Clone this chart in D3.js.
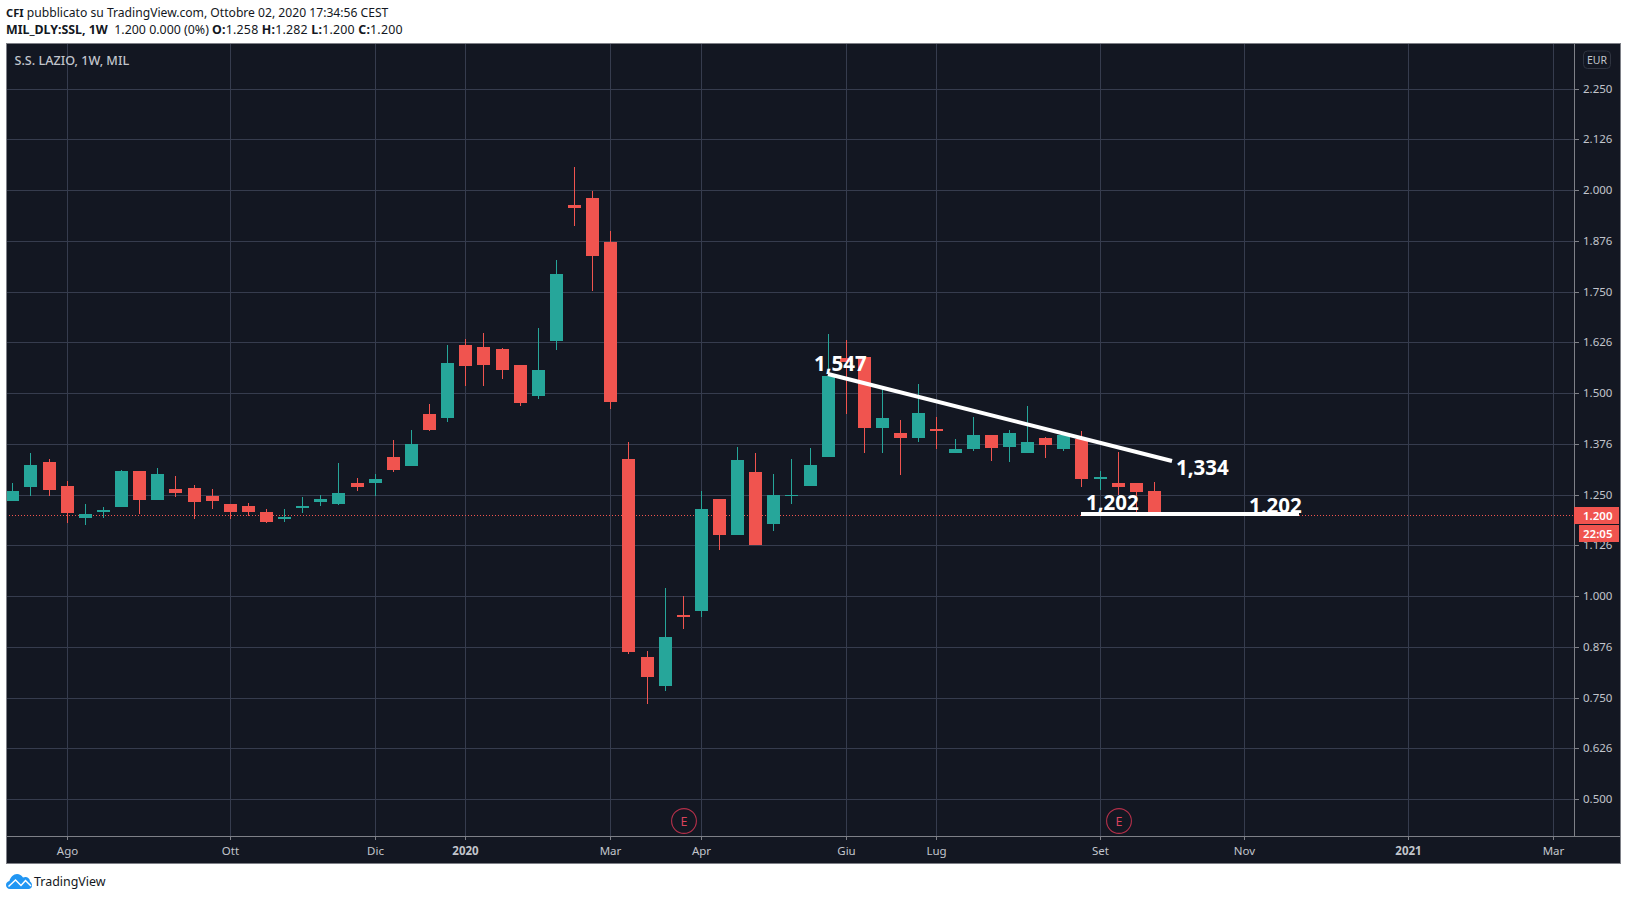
<!DOCTYPE html>
<html>
<head>
<meta charset="utf-8">
<title>S.S. LAZIO, 1W, MIL</title>
<script src="https://cdn.jsdelivr.net/npm/d3@7/dist/d3.min.js"></script>
<style>
  html, body { margin: 0; padding: 0; background: #fff; }
  svg { display: block; font-family: "Noto Sans", sans-serif; }
</style>
</head>
<body>
<svg id="chart" width="1627" height="900"></svg>
<script>
// Weekly OHLC for S.S. Lazio, Borsa Italiana, one entry per week from firstWeek on.
const firstWeek = "2019-07-15";
const opens = [1.235,1.2695,1.331,1.272,1.193,1.208,1.220,1.309,1.2374,1.2645,1.267,1.2473,1.2275,1.2226,1.208,1.1905,1.2177,1.2325,1.2275,1.2793,1.2793,1.3434,
  1.3213,1.4493,1.4395,1.6195,1.6145,1.6096,1.5701,1.4937,1.6293,1.9647,1.982,1.8735,1.3385,0.8503,0.7787,0.9538,0.9637,1.2399,1.1511,1.3065,1.1782,1.2473,1.2719,1.3434,
  1.5876,1.59,1.4149,1.4025,1.3902,1.4124,1.3532,1.3631,1.3976,1.368,1.3532,1.3902,1.3632,1.3878,1.2892,1.2793,1.2793,1.258];
const highs = [1.279,1.353,1.3385,1.284,1.2275,1.220,1.311,1.309,1.316,1.2966,1.2744,1.2645,1.2275,1.23,1.2152,1.2152,1.2448,1.2497,1.3286,1.2917,1.3015,1.3854,
  1.41,1.474,1.6195,1.6343,1.6491,1.612,1.5701,1.6614,1.8291,2.056,1.9968,1.9006,1.3804,0.8651,1.0204,1.0007,1.2596,1.2399,1.3681,1.3533,1.3015,1.3385,1.3657,1.6467,
  1.6319,1.59,1.5168,1.4346,1.5234,1.442,1.3877,1.442,1.3976,1.4099,1.4691,1.3927,1.404,1.4076,1.3089,1.3558,1.2793,1.282];
const lows = [1.235,1.247,1.247,1.181,1.176,1.193,1.220,1.203,1.2374,1.2448,1.1905,1.2152,1.1905,1.198,1.181,1.183,1.205,1.2226,1.225,1.2596,1.247,1.3064,
  1.3213,1.4074,1.4296,1.5184,1.5184,1.5356,1.469,1.4863,1.6071,1.9129,1.7526,1.4616,0.8577,0.7344,0.7664,0.9193,0.9489,1.1141,1.1511,1.1264,1.161,1.2276,1.2719,1.3434,
  1.4494,1.3532,1.3532,1.299,1.3803,1.3631,1.3532,1.3581,1.3335,1.331,1.3532,1.3409,1.3582,1.2695,1.2621,1.2497,1.203,1.200];
const closes = [1.2596,1.324,1.262,1.205,1.203,1.2127,1.309,1.2374,1.3015,1.2547,1.2325,1.235,1.208,1.208,1.183,1.1955,1.2226,1.24,1.2547,1.2695,1.2892,1.3114,
  1.3755,1.4099,1.575,1.5677,1.5701,1.5578,1.4764,1.5578,1.7946,1.9573,1.8389,1.4789,0.8626,0.8009,0.8996,0.9489,1.2152,1.1511,1.3361,1.1264,1.2497,1.2497,1.3237,1.5431,
  1.577,1.4149,1.4395,1.3902,1.4519,1.4075,1.3631,1.3976,1.3656,1.4025,1.3803,1.3729,1.3977,1.2892,1.2941,1.2695,1.2571,1.200];

// Axis contents
const priceTicks = [0.5,0.626,0.75,0.876,1,1.126,1.25,1.376,1.5,1.626,1.75,1.876,2,2.126,2.25];
const timeTickDates = ["2019-08-05","2019-10-07","2019-12-02","2020-01-06","2020-03-02","2020-04-06","2020-06-01","2020-07-06","2020-09-07","2020-11-02","2021-01-04","2021-03-01"];
const timeTickLabels = ["Ago","Ott","Dic","2020","Mar","Apr","Giu","Lug","Set","Nov","2021","Mar"];

// Earnings events and the hand-drawn trend lines with their labels
const earningsWeeks = ["2020-03-30","2020-09-14"];
const trendStarts = ["2020-05-25","2020-08-31"];
const trendEnds = ["2020-10-05","2020-11-23"];
const trendStartValues = [1.547,1.202];
const trendEndValues = [1.334,1.202];
const lastPrice = 1.200;
const countdown = "22:05";

const parseDay = d3.utcParse("%Y-%m-%d");
const weeks = opens.map((_, i) => d3.utcMonday.offset(parseDay(firstWeek), i));

const UP = "#26a69a", DOWN = "#f0544f", PANEL = "#131722", GRID = "#363c4e",
      FRAME = "#7e8087", AXIS_TEXT = "#c2c5cc";

const svg = d3.select("#chart");
const plot = { left: 6, right: 1574, top: 43, bottom: 836 };
const outer = { right: 1620, bottom: 863 };

const x = d3.scaleUtc()
  .domain([weeks[0], d3.utcMonday.offset(weeks[0], 85)])
  .rangeRound([12.33, 1552.53]);
const y = d3.scaleLinear().domain([0.5, 2.25]).rangeRound([799.2, 88.7]);

svg.append("rect").attr("x", plot.left).attr("y", plot.top)
  .attr("width", outer.right - plot.left).attr("height", outer.bottom - plot.top)
  .attr("fill", PANEL);

svg.append("clipPath").attr("id", "plot-clip").append("rect")
  .attr("x", plot.left).attr("y", plot.top)
  .attr("width", plot.right - plot.left).attr("height", plot.bottom - plot.top);

// Grid, drawn with axis generators whose labels are removed
const grid = svg.append("g").attr("shape-rendering", "crispEdges");
grid.append("g").attr("transform", `translate(${plot.left},0)`)
  .call(d3.axisRight(y).tickValues(priceTicks).tickSize(plot.right - plot.left).tickFormat(""))
  .call(g => g.select(".domain").remove())
  .call(g => g.selectAll("line").attr("stroke", GRID));
grid.append("g").attr("transform", `translate(0,${plot.top})`)
  .call(d3.axisBottom(x).tickValues(timeTickDates.map(parseDay)).tickSize(plot.bottom - plot.top).tickFormat(""))
  .call(g => g.select(".domain").remove())
  .call(g => g.selectAll("line").attr("stroke", GRID));

// Dotted last-price line
svg.append("line")
  .attr("x1", plot.left).attr("x2", plot.right)
  .attr("y1", y(lastPrice) + 0.5).attr("y2", y(lastPrice) + 0.5)
  .attr("stroke", DOWN).attr("stroke-dasharray", "1 2").attr("shape-rendering", "crispEdges");

// Candles
const candles = svg.append("g").attr("clip-path", "url(#plot-clip)").attr("shape-rendering", "crispEdges")
  .selectAll("g").data(weeks).join("g")
  .attr("fill", (_, i) => closes[i] >= opens[i] ? UP : DOWN);
candles.append("rect")
  .attr("x", d => x(d)).attr("width", 1)
  .attr("y", (_, i) => y(highs[i]))
  .attr("height", (_, i) => Math.max(1, y(lows[i]) - y(highs[i])));
candles.append("rect")
  .attr("x", d => x(d) - 6).attr("width", 13)
  .attr("y", (_, i) => y(Math.max(opens[i], closes[i])))
  .attr("height", (_, i) => Math.max(1, y(Math.min(opens[i], closes[i])) - y(Math.max(opens[i], closes[i]))));

// Trend lines
const trends = svg.append("g").attr("clip-path", "url(#plot-clip)");
trendStarts.forEach((start, i) => {
  trends.append("line")
    .attr("x1", x(parseDay(start))).attr("y1", y(trendStartValues[i]))
    .attr("x2", x(parseDay(trendEnds[i]))).attr("y2", y(trendEndValues[i]))
    .attr("stroke", "#fff").attr("stroke-width", 4);
});
const fmtComma = v => d3.format(".3f")(v).replace(".", ",");
const labelData = [
  { date: trendStarts[0], value: trendStartValues[0], dx: -14, dy: -3 },
  { date: trendEnds[0], value: trendEndValues[0], dx: 4, dy: 14 },
  { date: trendStarts[1], value: trendStartValues[1], dx: 5, dy: -4 },
  { date: trendEnds[1], value: trendEndValues[1], dx: -50, dy: -1 }
];
svg.append("g").selectAll("text").data(labelData).join("text")
  .attr("x", d => x(parseDay(d.date)) + d.dx)
  .attr("y", d => y(d.value) + d.dy)
  .attr("fill", "#fff").attr("font-size", 20.5).attr("font-weight", 700)
  .text(d => fmtComma(d.value));

// Earnings markers
const earn = svg.append("g").selectAll("g").data(earningsWeeks).join("g")
  .attr("transform", d => `translate(${x(parseDay(d)) + 1},821)`);
earn.append("circle").attr("r", 12.4).attr("fill", "none").attr("stroke", "#b5304a").attr("stroke-width", 1.1);
earn.append("text").attr("text-anchor", "middle").attr("y", 4.5).attr("font-size", 12.5).attr("fill", "#d8435c").text("E");

// Price axis
svg.append("g").attr("transform", `translate(${plot.right},0)`)
  .call(d3.axisRight(y).tickValues(priceTicks).tickSize(5).tickPadding(4).tickFormat(d3.format(".3f")))
  .call(g => g.select(".domain").remove())
  .call(g => g.selectAll("line").attr("stroke", FRAME).attr("shape-rendering", "crispEdges"))
  .call(g => g.selectAll("text").attr("fill", AXIS_TEXT).attr("font-size", 11.5).attr("font-family", "Noto Sans"));

// Time axis
svg.append("g").attr("transform", `translate(0,${plot.bottom})`)
  .call(d3.axisBottom(x).tickValues(timeTickDates.map(parseDay)).tickSize(4).tickPadding(7)
    .tickFormat((_, i) => timeTickLabels[i]))
  .call(g => g.select(".domain").remove())
  .call(g => g.selectAll("line").attr("stroke", FRAME).attr("shape-rendering", "crispEdges"))
  .call(g => g.selectAll("text").attr("fill", AXIS_TEXT).attr("font-size", 11.5).attr("font-family", "Noto Sans")
    .attr("font-weight", (_, i) => /^\d+$/.test(timeTickLabels[i]) ? 700 : 400));

// Panel frame and the separators of the two axes
const frame = svg.append("g").attr("stroke", FRAME).attr("fill", "none").attr("shape-rendering", "crispEdges");
frame.append("rect").attr("x", plot.left + 0.5).attr("y", plot.top + 0.5)
  .attr("width", outer.right - plot.left).attr("height", outer.bottom - plot.top);
frame.append("line").attr("x1", plot.right + 0.5).attr("x2", plot.right + 0.5).attr("y1", plot.top).attr("y2", plot.bottom);
frame.append("line").attr("x1", plot.left).attr("x2", outer.right).attr("y1", plot.bottom + 0.5).attr("y2", plot.bottom + 0.5);

// Currency badge
svg.append("rect").attr("x", 1583.5).attr("y", 51).attr("width", 27).attr("height", 17.5).attr("rx", 4)
  .attr("fill", "none").attr("stroke", "#2f3440");
svg.append("text").attr("x", 1597).attr("y", 63.5).attr("text-anchor", "middle")
  .attr("font-size", 10.5).attr("fill", AXIS_TEXT).text("EUR");

// Last-price and countdown tags
svg.append("rect").attr("x", plot.right).attr("y", y(lastPrice) - 8).attr("width", 45).attr("height", 17).attr("fill", DOWN);
svg.append("text").attr("x", 1583).attr("y", y(lastPrice) + 4.5).attr("font-size", 11.5).attr("font-weight", 600)
  .attr("fill", "#fff").text(d3.format(".3f")(lastPrice));
svg.append("rect").attr("x", 1579).attr("y", 525).attr("width", 40).attr("height", 17).attr("fill", DOWN);
svg.append("text").attr("x", 1583).attr("y", 537.5).attr("font-size", 11.5).attr("font-weight", 600)
  .attr("fill", "#fff").text(countdown);

// Chart legend
svg.append("text").attr("x", 14.5).attr("y", 65).attr("font-size", 12.6).attr("font-weight", 500)
  .attr("fill", AXIS_TEXT).text("S.S. LAZIO, 1W, MIL");

// Publication header
const head1 = svg.append("text").attr("x", 6).attr("y", 17).attr("font-size", 12.13).attr("fill", "#131722");
head1.append("tspan").attr("font-weight", 700).attr("font-size", 11.2).text("CFI");
head1.append("tspan").text(" pubblicato su TradingView.com, Ottobre 02, 2020 17:34:56 CEST");
const head2 = svg.append("text").attr("x", 6).attr("y", 34).attr("font-size", 12.4).attr("fill", "#131722");
[["MIL_DLY:SSL, 1W", 1, 0], ["  1.200 0.000 (0%) ", 0, 0], ["O:", 1, 0.2], ["1.258 ", 0, 0.2], ["H:", 1, 0.2], ["1.282 ", 0, 0.2], ["L:", 1, 0.2], ["1.200 ", 0, 0.2], ["C:", 1, 0.2], ["1.200", 0, 0.2]]
  .forEach(([t, b, ls]) => head2.append("tspan").attr("font-weight", b ? 700 : 400)
    .attr("letter-spacing", ls).attr("xml:space", "preserve").text(t));

// Footer logo
const logo = svg.append("g").attr("transform", "translate(6,874)");
logo.append("path").attr("fill", "#2196f3")
  .attr("d", "M4 15C1.5 15 0 13.2 0 11C0 9 1.5 7.6 3.4 7C4.6 3 7.5 0 11 0C13.5 0 15.6 1.4 17 3.6C18 3 19 2.9 20 3C22.2 3.2 24 5 24 7.5C25.5 8 26 10 26 11.5C26 13.5 24.5 15 22.5 15Z");
logo.append("path").attr("fill", "none").attr("stroke", "#fff").attr("stroke-width", 1.5)
  .attr("d", "M2.5 12.5L9.5 6L15 11.5L19.5 6.5L25 12");
svg.append("text").attr("x", 34).attr("y", 886).attr("font-size", 12.45).attr("fill", "#131722").text("TradingView");
</script>
</body>
</html>
